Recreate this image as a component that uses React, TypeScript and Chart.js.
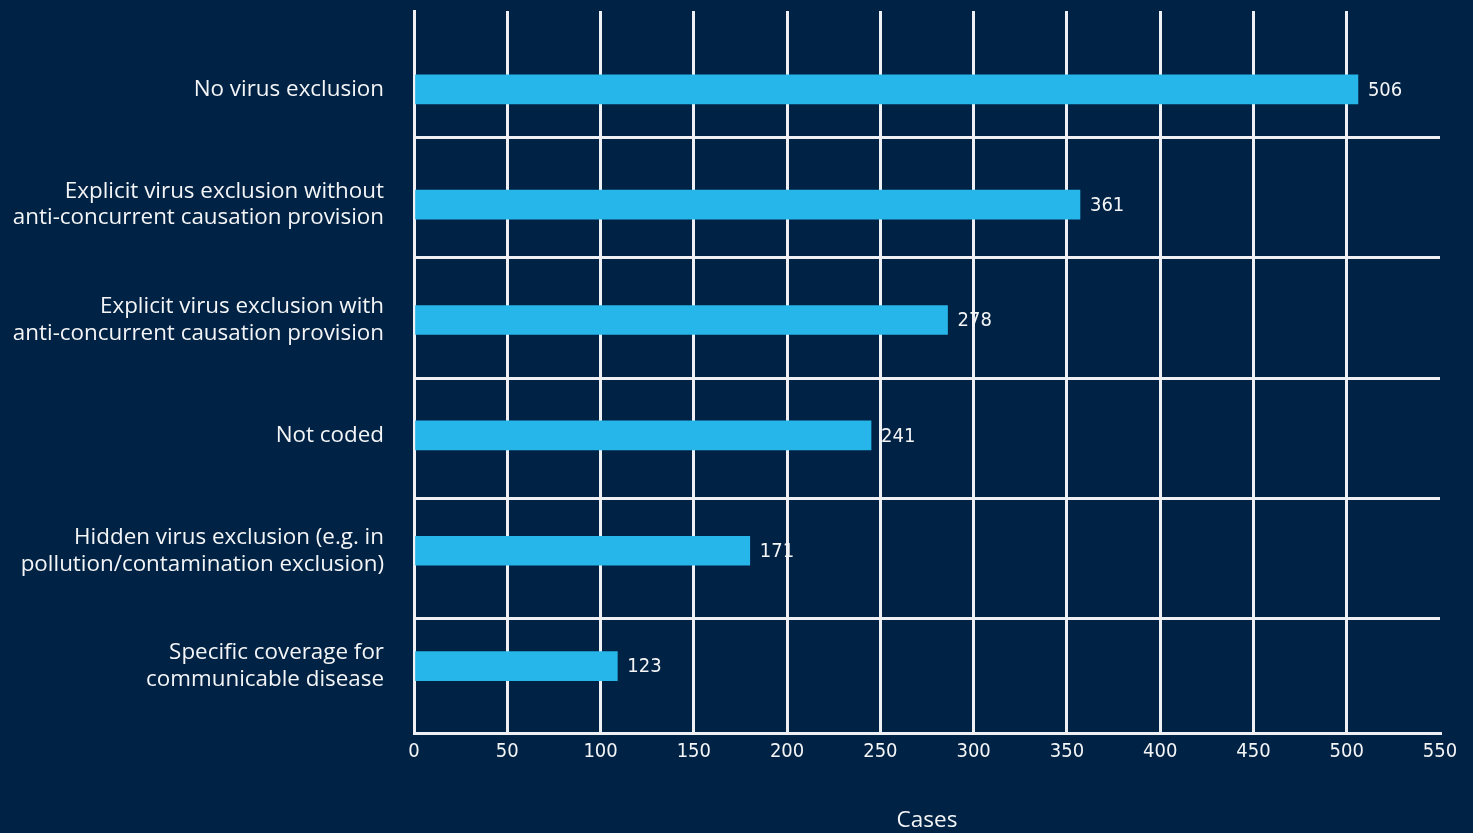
import React, { useEffect, useRef } from 'react';
import { Chart, registerables } from 'chart.js';

Chart.register(...registerables);

const categories: string[][] = [
  ['No virus exclusion'],
  ['Explicit virus exclusion without', 'anti-concurrent causation provision'],
  ['Explicit virus exclusion with', 'anti-concurrent causation provision'],
  ['Not coded'],
  ['Hidden virus exclusion (e.g. in', 'pollution/contamination exclusion)'],
  ['Specific coverage for', 'communicable disease'],
];

// bar lengths as drawn in the picture
const barValues: number[] = [506, 357, 286, 245, 180, 109];
// value labels as printed next to the bars
const valueLabels: string[] = ['506', '361', '278', '241', '171', '123'];

const xMin = 0;
const xMax = 550;
const xStep = 50;
const axisTitle = 'Cases';

const BG = '#002244';
const BAR = '#27B6E9';
const GRID = '#EEF0F3';
const TEXT = '#F4F5F7';
const NUM_FONT = "'DejaVu Sans Condensed', 'DejaVu Sans', sans-serif";
const LABEL_FONT = "'Open Sans', 'Noto Sans', sans-serif";

const valueLabelPlugin = {
  id: 'valueLabels',
  afterDatasetsDraw(chart: any) {
    const ctx = chart.ctx;
    const meta = chart.getDatasetMeta(0);
    ctx.save();
    ctx.fillStyle = TEXT;
    ctx.font = `20px ${NUM_FONT}`;
    ctx.textAlign = 'left';
    ctx.textBaseline = 'middle';
    meta.data.forEach((bar: any, i: number) => {
      ctx.fillText(valueLabels[i], bar.x + 10, bar.y + 1);
    });
    ctx.restore();
  },
};

export default function App() {
  const canvasRef = useRef<HTMLCanvasElement | null>(null);

  useEffect(() => {
    if (!canvasRef.current) return;
    const chart = new Chart(canvasRef.current, {
      type: 'bar',
      data: {
        datasets: [
          {
            data: barValues.map((v, i) => ({ x: v, y: i })) as any,
            backgroundColor: BAR,
            borderWidth: 0,
            barThickness: 29,
          },
        ],
      },
      options: {
        indexAxis: 'y',
        animation: false,
        responsive: true,
        maintainAspectRatio: false,
        layout: { padding: { top: 11, right: 33, bottom: 0, left: 0 } },
        plugins: {
          legend: { display: false },
          tooltip: { enabled: false },
        },
        scales: {
          x: {
            type: 'linear',
            position: 'bottom',
            min: xMin,
            max: xMax,
            offset: false,
            ticks: {
              stepSize: xStep,
              color: TEXT,
              font: { family: NUM_FONT, size: 20 },
              padding: 7,
            },
            grid: {
              color: (c: any) => (c.tick && c.tick.value === xMax ? 'rgba(0,0,0,0)' : GRID),
              lineWidth: 3,
              drawTicks: false,
              offset: false,
            },
            border: { display: true, color: GRID, width: 3 },
            title: {
              display: true,
              text: axisTitle,
              color: TEXT,
              font: { family: LABEL_FONT, size: 22.5, lineHeight: 1.07 },
              padding: { top: 0, bottom: 0 },
            },
            afterFit: (s: any) => {
              s.height = 100;
              s.paddingLeft = 0;
              s.paddingRight = 0;
            },
          },
          y: {
            type: 'linear',
            position: 'left',
            reverse: true,
            offset: false,
            min: -0.679,
            max: 5.58,
            afterBuildTicks: (s: any) => {
              s.ticks = categories.map((_, i) => ({ value: i }));
            },
            ticks: {
              color: TEXT,
              font: { family: LABEL_FONT, size: 22.4, lineHeight: 1.2 },
              padding: 30,
              callback: (v: any) => categories[Math.round(Number(v))] ?? '',
            },
            grid: { display: false, drawTicks: false, offset: false },
            border: { display: true, color: GRID, width: 3 },
            afterFit: (s: any) => {
              s.width = 414;
              s.paddingTop = 0;
              s.paddingBottom = 0;
            },
          },
          yGrid: {
            type: 'linear',
            position: 'right',
            reverse: true,
            offset: false,
            min: -0.058,
            max: 5.958,
            afterBuildTicks: (s: any) => {
              s.ticks = [1, 2, 3, 4, 5].map((v) => ({ value: v }));
            },
            ticks: { display: false },
            grid: { color: GRID, lineWidth: 3, drawTicks: false, offset: false },
            border: { display: false },
            afterFit: (s: any) => {
              s.width = 0;
              s.paddingTop = 0;
              s.paddingBottom = 0;
            },
          },
        },
      } as any,
      plugins: [valueLabelPlugin],
    });
    return () => chart.destroy();
  }, []);

  return (
    <div
      style={{
        position: 'fixed',
        left: 0,
        top: 0,
        width: 1473,
        height: 833,
        background: BG,
      }}
    >
      <canvas ref={canvasRef} />
    </div>
  );
}
